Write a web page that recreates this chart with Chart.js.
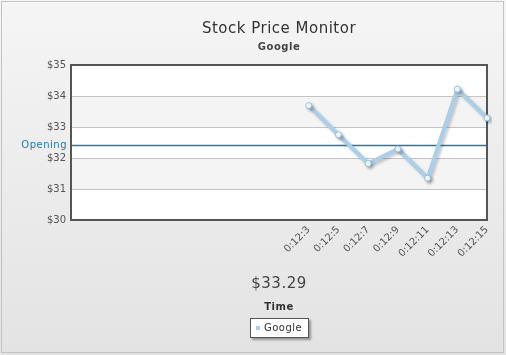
<!DOCTYPE html>
<html>
<head>
<meta charset="utf-8">
<script src="https://cdn.jsdelivr.net/npm/chart.js@4.4.1/dist/chart.umd.min.js"></script>
<style>
  html, body { margin: 0; padding: 0; background: #fff; }
  #wrap { width: 506px; height: 355px; }
</style>
</head>
<body>
<div id="wrap"><canvas id="stock-chart" width="506" height="355"></canvas></div>
<script>
// 15 display slots, the feed has only filled the last 7
let timeLabels = ['', '', '', '', '', '', '', '', '0:12:3', '0:12:5', '0:12:7', '0:12:9', '0:12:11', '0:12:13', '0:12:15'];
let googlePrices = [null, null, null, null, null, null, null, null, 33.69, 32.75, 31.82, 32.29, 31.35, 34.22, 33.29];
let priceTicks = [30, 31, 32, 33, 34, 35];
let openingPrice = 32.43;
let lastValueText = '$33.29';

const FONT = '"DejaVu Sans", Verdana, sans-serif';

let decorPlugin = {
    id: 'decor',
    beforeDraw: function (chart) {
        let ctx = chart.ctx, area = chart.chartArea, y = chart.scales.y;
        ctx.save();
        let g = ctx.createLinearGradient(0, 0, 0, chart.height);
        g.addColorStop(0, '#f5f5f5');
        g.addColorStop(1, '#e3e3e3');
        ctx.fillStyle = g;
        ctx.fillRect(0, 0, chart.width, chart.height);
        ctx.strokeStyle = '#c4c4c4';
        ctx.lineWidth = 1;
        ctx.strokeRect(1.5, 1.5, chart.width - 4, chart.height - 4);

        // plot background with alternate bands
        ctx.fillStyle = '#ffffff';
        ctx.fillRect(area.left, area.top, area.right - area.left, area.bottom - area.top);
        ctx.fillStyle = '#f4f4f4';
        for (let i = 0; i < priceTicks.length - 1; i++) {
            if (i % 2 === 1) {
                let y1 = y.getPixelForValue(priceTicks[i + 1]);
                let y0 = y.getPixelForValue(priceTicks[i]);
                ctx.fillRect(area.left, y1, area.right - area.left, y0 - y1);
            }
        }

        // titles
        let cx = (area.left + area.right) / 2;
        ctx.textAlign = 'center';
        ctx.textBaseline = 'middle';
        ctx.fillStyle = '#333';
        ctx.letterSpacing = '0.5px';
        ctx.font = '15px ' + FONT;
        ctx.fillText('Stock Price Monitor', cx, 29);
        ctx.font = 'bold 10px ' + FONT;
        ctx.fillStyle = '#444';
        ctx.fillText('Google', cx, 47);

        // real-time value, axis name, legend
        ctx.font = '15px ' + FONT;
        ctx.fillStyle = '#444';
        ctx.fillText(lastValueText, cx, 284);
        ctx.font = 'bold 10px ' + FONT;
        ctx.fillStyle = '#333';
        ctx.fillText('Time', cx, 307);

        let lw = 59, lh = 20, lx = Math.round(cx - lw / 2), ly = 318;
        ctx.shadowColor = 'rgba(0,0,0,0.35)';
        ctx.shadowOffsetX = 2;
        ctx.shadowOffsetY = 2;
        ctx.shadowBlur = 2;
        ctx.fillStyle = '#ffffff';
        ctx.fillRect(lx, ly, lw, lh);
        ctx.shadowColor = 'transparent';
        ctx.strokeStyle = '#555';
        ctx.strokeRect(lx + 0.5, ly + 0.5, lw - 1, lh - 1);
        ctx.fillStyle = '#a9cfea';
        ctx.fillRect(lx + 6, ly + 8, 4, 4);
        ctx.fillStyle = '#333';
        ctx.textAlign = 'left';
        ctx.font = '10px ' + FONT;
        ctx.fillText('Google', lx + 14, ly + 10.5);
        ctx.restore();
    },
    beforeDatasetsDraw: function (chart) {
        let ctx = chart.ctx, area = chart.chartArea, y = chart.scales.y;
        ctx.save();
        // opening price trend line
        let oy = Math.round(y.getPixelForValue(openingPrice)) + 0.5;
        ctx.strokeStyle = '#1e7bb0';
        ctx.lineWidth = 1.5;
        ctx.beginPath();
        ctx.moveTo(area.left, oy);
        ctx.lineTo(area.right, oy);
        ctx.stroke();
        ctx.fillStyle = '#1e7bb0';
        ctx.letterSpacing = '0.5px';
        ctx.font = '10px ' + FONT;
        ctx.textAlign = 'right';
        ctx.textBaseline = 'middle';
        ctx.fillText('Opening', area.left - 4, oy);

        // plot border
        ctx.strokeStyle = '#555';
        ctx.lineWidth = 2;
        ctx.strokeRect(area.left, area.top, area.right - area.left, area.bottom - area.top);
        ctx.restore();

        ctx.save();
        ctx.shadowColor = 'rgba(0,0,0,0.22)';
        ctx.shadowOffsetX = 2;
        ctx.shadowOffsetY = 2;
        ctx.shadowBlur = 3;
    },
    afterDatasetsDraw: function (chart) {
        chart.ctx.restore();
    }
};

window.onload = function () {
    let ctx = document.getElementById('stock-chart').getContext('2d');
    new Chart(ctx, {
        type: 'line',
        data: {
            labels: timeLabels,
            datasets: [{
                label: 'Google',
                data: googlePrices,
                borderColor: '#a9cfea',
                borderWidth: 4,
                pointRadius: 3,
                pointBorderWidth: 1,
                pointBackgroundColor: '#ffffff',
                pointBorderColor: '#8fc0e4',
                tension: 0,
                fill: false
            }]
        },
        plugins: [decorPlugin],
        options: {
            responsive: false,
            animation: false,
            layout: { padding: { left: 0, right: 19, top: 65, bottom: 0 } },
            plugins: {
                legend: { display: false },
                title: { display: false },
                tooltip: { enabled: false }
            },
            scales: {
                x: {
                    type: 'category',
                    offset: false,
                    grid: { display: false, drawTicks: false },
                    border: { display: false },
                    ticks: {
                        autoSkip: false,
                        maxRotation: 45,
                        minRotation: 45,
                        padding: 4,
                        color: '#555',
                        font: { family: FONT, size: 10 }
                    },
                    afterFit: function (scale) { scale.height = 135; }
                },
                y: {
                    min: priceTicks[0],
                    max: priceTicks[priceTicks.length - 1],
                    grid: { color: '#c4c4c4', lineWidth: 1, drawTicks: false },
                    border: { display: false },
                    ticks: {
                        stepSize: 1,
                        padding: 5,
                        color: '#555',
                        font: { family: FONT, size: 10 },
                        callback: function (v) { return '$' + v; }
                    },
                    afterFit: function (scale) { scale.width = 71; }
                }
            }
        }
    });
};
</script>
</body>
</html>
